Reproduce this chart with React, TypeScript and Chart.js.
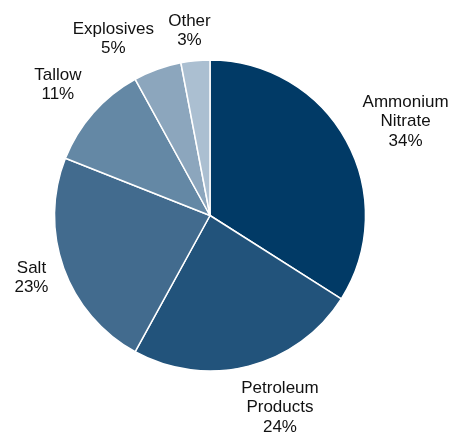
import React, { useEffect, useRef } from "react";
import { Chart, registerables } from "chart.js";

Chart.register(...registerables);

const categories: string[][] = [
  ["Ammonium", "Nitrate"],
  ["Petroleum", "Products"],
  ["Salt"],
  ["Tallow"],
  ["Explosives"],
  ["Other"],
];
const shares: number[] = [34, 24, 23, 11, 5, 3];
const sliceColors: string[] = ["#013a66", "#22537b", "#426b8e", "#6488a5", "#8ca6bd", "#abbfd1"];
// label placement style: radial gap (px) and angular nudge (deg) per slice
const labelGaps: number[] = [21.2, 18.5, 16.3, 23.1, 22, 10.6];
const labelAngleShift: number[] = [1.7, -4.8, 0.8, -0.2, -6.5, -0.9];

const FONT = '17px "Liberation Sans", Arial, sans-serif';
const LINE_H = 19.5;

const labelPlugin = {
  id: "outsideLabels",
  afterDatasetsDraw(chart: any) {
    const ctx = chart.ctx;
    const meta = chart.getDatasetMeta(0);
    ctx.save();
    ctx.font = FONT;
    ctx.fillStyle = "#111111";
    ctx.textAlign = "center";
    ctx.textBaseline = "middle";
    meta.data.forEach((arc: any, i: number) => {
      const p = arc.getProps(["x", "y", "startAngle", "endAngle", "outerRadius"], true);
      const mid = (p.startAngle + p.endAngle) / 2 + (labelAngleShift[i] * Math.PI) / 180;
      const lines = [...categories[i], shares[i] + "%"];
      const w = Math.max(...lines.map((l) => ctx.measureText(l).width));
      const h = lines.length * LINE_H;
      const r = p.outerRadius + labelGaps[i];
      const cos = Math.cos(mid);
      const sin = Math.sin(mid);
      const cx = p.x + r * cos + (cos * w) / 2;
      const cy = p.y + r * sin + (sin * h) / 2;
      lines.forEach((l, k) => {
        ctx.fillText(l, cx, cy - h / 2 + LINE_H / 2 + k * LINE_H);
      });
    });
    ctx.restore();
  },
};

export default function App() {
  const ref = useRef<HTMLCanvasElement | null>(null);
  useEffect(() => {
    if (!ref.current) return;
    const chart = new Chart(ref.current, {
      type: "pie",
      data: {
        labels: categories.map((c) => c.join(" ")),
        datasets: [
          {
            data: shares,
            backgroundColor: sliceColors,
            borderColor: "#ffffff",
            borderWidth: 1.5,
          },
        ],
      },
      options: {
        responsive: false,
        animation: false,
        devicePixelRatio: 1,
        layout: { padding: { left: 53.75, right: 88.75, top: 59.25, bottom: 60.25 } },
        plugins: {
          legend: { display: false },
          tooltip: { enabled: false },
        },
      },
      plugins: [labelPlugin],
    } as any);
    return () => chart.destroy();
  }, []);
  return (
    <div style={{ position: "fixed", left: 0, top: 0, width: 455, height: 432, background: "#fff" }}>
      <canvas ref={ref} width={455} height={432} style={{ width: 455, height: 432, display: "block" }} />
    </div>
  );
}
